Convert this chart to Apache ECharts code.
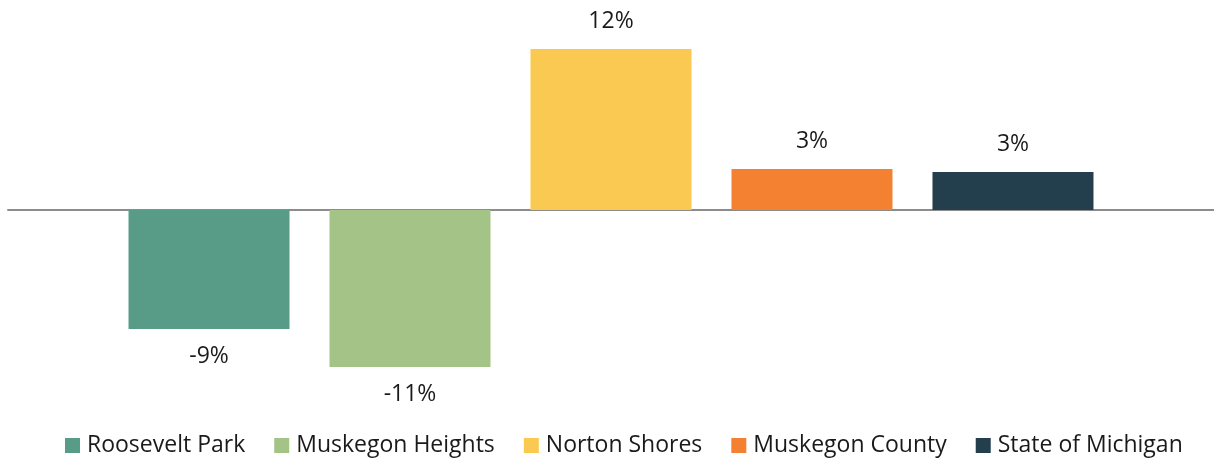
<!DOCTYPE html>
<html><head><meta charset="utf-8">
<script src="https://cdn.jsdelivr.net/npm/echarts@6/dist/echarts.min.js"></script>
<style>html,body{margin:0;padding:0;background:#fff}#c{width:1214px;height:458px}</style>
</head><body><div id="c"></div>
<script>
const seriesNames = ["Roosevelt Park", "Muskegon Heights", "Norton Shores", "Muskegon County", "State of Michigan"];
const seriesValues = [-8.62, -11.38, 11.67, 2.97, 2.75];
const seriesLabels = ["-9%", "-11%", "12%", "3%", "3%"];
const seriesColors = ["#589B86", "#A4C386", "#FAC951", "#F48031", "#233E4D"];
const categories = [""];

const chart = echarts.init(document.getElementById('c'));
const FONT = 'Open Sans';
chart.setOption({
  animation: false,
  grid: { left: 8, right: 0, top: 44.4, height: 331.2, containLabel: false },
  xAxis: {
    type: 'category', data: categories,
    axisLine: { show: true, onZero: true, lineStyle: { color: '#8C8C8C', width: 2 } },
    axisTick: { show: false }, axisLabel: { show: false }, splitLine: { show: false }
  },
  yAxis: { type: 'value', min: -12, max: 12, show: false, splitLine: { show: false } },
  legend: {
    top: 434, left: 65, itemWidth: 15, itemHeight: 15, itemGap: 29, icon: 'rect', padding: 0,
    textStyle: { fontFamily: FONT, fontSize: 23, color: '#1a1a1a', padding: [0, 0, 0, 2] },
    data: seriesNames
  },
  series: seriesNames.map((n, i) => ({
    name: n, type: 'bar', barWidth: 161, barGap: '24.84%',
    data: [seriesValues[i]],
    itemStyle: { color: seriesColors[i] },
    z: 1,
    label: {
      show: true, position: 'outside', distance: 16,
      formatter: () => seriesLabels[i],
      fontFamily: FONT, fontSize: 23, color: '#1a1a1a'
    }
  }))
});
</script></body></html>
